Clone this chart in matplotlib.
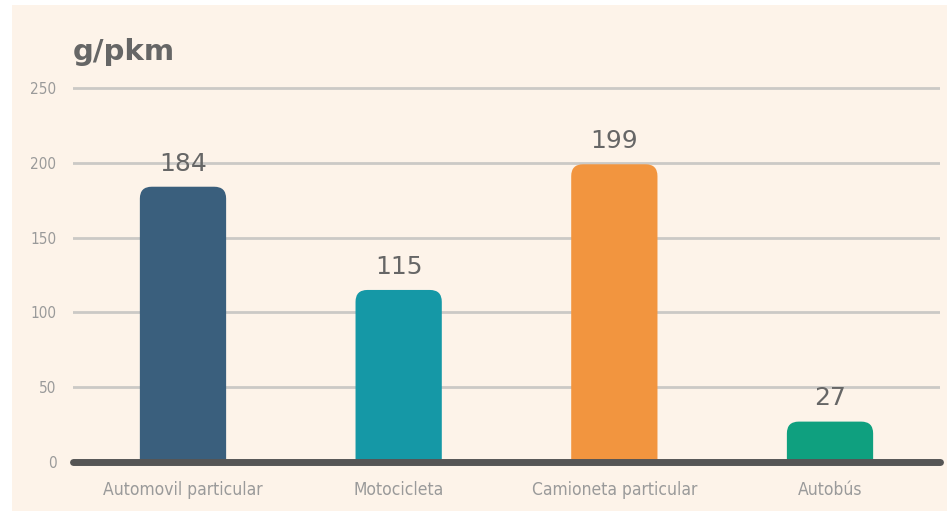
import matplotlib.pyplot as plt
from matplotlib.patches import FancyBboxPatch, Rectangle

categories = ['Automovil particular', 'Motocicleta', 'Camioneta particular', 'Autobús']
values = [184, 115, 199, 27]
colors = ['#3A5F7D', '#1598A6', '#F2953F', '#0FA07F']
yticks = [0, 50, 100, 150, 200, 250]

cream = '#FDF3E9'
fig = plt.figure(figsize=(9.47, 5.17), dpi=100)
fig.patch.set_facecolor('white')
fig.patches.append(Rectangle((12 / 947, 0.012), 1, 0.99 - 0.012, transform=fig.transFigure,
                             facecolor=cream, edgecolor='none', zorder=-10))

ax = fig.add_axes([73 / 947, 1 - 462 / 517, (940 - 73) / 947, (462 - 80.5) / 517])
ax.set_facecolor('none')
ax.set_xlim(-0.51, 3.51)
ax.set_ylim(0, 255)

for s in ax.spines.values():
    s.set_visible(False)

for t in yticks[1:]:
    ax.axhline(t, color='#CBC9C6', lw=2, zorder=1)
ax.axhline(0, color='#555555', lw=5, solid_capstyle='round', zorder=5, clip_on=False)

bars = ax.bar(range(len(categories)), values, width=0.4, color=colors)
# swap plain bars for ones with rounded tops (bottom corners go below 0 and get clipped)
aspect = (255 / (462 - 80.5)) / (4.02 / 867)
for bar, c in zip(bars, colors):
    bar.set_visible(False)
    x, w, h = bar.get_x(), bar.get_width(), bar.get_height()
    ax.add_patch(FancyBboxPatch((x, -30), w, h + 30, boxstyle='round,pad=0,rounding_size=0.055',
                                mutation_aspect=aspect, facecolor=c, edgecolor='none', zorder=3))

for i, v in enumerate(values):
    ax.annotate(str(v), (i, v), xytext=(0, 8), textcoords='offset points',
                ha='center', va='bottom', fontsize=18, color='#666666', family='DejaVu Sans')

ax.set_yticks(yticks)
ax.set_yticklabels([str(t) for t in yticks], fontsize=11, color='#9A9A9A',
                   fontstretch='condensed')
ax.set_xticks(range(len(categories)))
ax.set_xticklabels(categories, fontsize=12.5, color='#9A9A9A', fontstretch='condensed')
ax.tick_params(axis='y', length=0, pad=12)
ax.tick_params(axis='x', length=0, pad=14)

fig.text(73 / 947, 1 - 60 / 517, 'g/pkm', fontsize=21, fontweight='bold', color='#666666',
         ha='left', va='baseline')

fig.savefig('out.png', dpi=100, facecolor=fig.get_facecolor())
